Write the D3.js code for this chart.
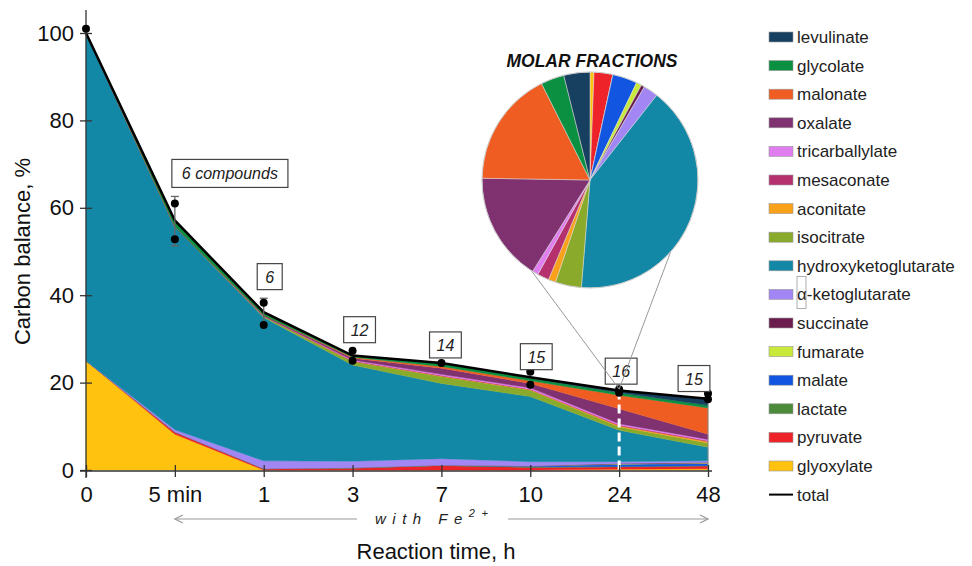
<!DOCTYPE html>
<html>
<head>
<meta charset="utf-8">
<script src="https://cdn.jsdelivr.net/npm/d3@7"></script>
<style>
  body { margin: 0; background: #fff; }
  svg { font-family: "Liberation Sans", Arial, sans-serif; }
</style>
</head>
<body>
<div id="chart"></div>
<script>
// reaction times (x categories)
const times = ['0', '5 min', '1', '3', '7', '10', '24', '48'];

// series, bottom of the stack first
const seriesNames = ['glyoxylate', 'pyruvate', 'lactate', 'malate', 'fumarate', 'succinate',
  'α-ketoglutarate', 'hydroxyketoglutarate', 'isocitrate', 'aconitate', 'mesaconate',
  'tricarballylate', 'oxalate', 'malonate', 'glycolate', 'levulinate'];
const colors = ['#ffc20e', '#ee2229', '#4c8b3c', '#1155e0', '#c8e83a', '#6b1e4e',
  '#a287f4', '#1388a6', '#8aaa2c', '#f9a11b', '#b5316e',
  '#e07ef0', '#7f3170', '#f05d23', '#0a9040', '#173f5f'];

// carbon balance, % (one value per time)
const glyoxylate           = [25, 8.2, 0, 0, 0, 0, 0.2, 0.3];
const pyruvate             = [0, 0.5, 0.3, 0.4, 1.0, 0.6, 0.5, 0.6];
const lactate              = [0, 0, 0, 0.1, 0.1, 0.1, 0.1, 0.1];
const malate               = [0, 0, 0, 0, 0, 0.2, 0.5, 0.5];
const fumarate             = [0, 0, 0, 0, 0, 0, 0.1, 0.1];
const succinate            = [0, 0, 0, 0, 0, 0, 0.1, 0.1];
const aKetoglutarate       = [0, 0.5, 1.8, 1.5, 1.5, 1.0, 0.4, 0.4];
const hydroxyketoglutarate = [75, 46.5, 32.8, 22, 17.2, 14.9, 7.2, 3.1];
const isocitrate           = [0, 0, 0.3, 0.8, 1.6, 1.5, 0.8, 1.0];
const aconitate            = [0, 0, 0, 0.1, 0.1, 0.1, 0.2, 0.3];
const mesaconate           = [0, 0, 0, 0.1, 0.1, 0.1, 0.2, 0.2];
const tricarballylate      = [0, 0, 0, 0.2, 0.3, 0.3, 0.3, 0.3];
const oxalate              = [0, 0, 0.2, 0.4, 1.4, 1.0, 3.4, 1.2];
const malonate             = [0, 0, 0, 0.2, 0.4, 0.6, 3.1, 6.0];
const glycolate            = [0, 1.4, 0.7, 0.4, 0.8, 0.6, 0.6, 0.6];
const levulinate           = [0, 0, 0, 0, 0, 0.2, 0.5, 1.5];

const seriesValues = [glyoxylate, pyruvate, lactate, malate, fumarate, succinate,
  aKetoglutarate, hydroxyketoglutarate, isocitrate, aconitate, mesaconate,
  tricarballylate, oxalate, malonate, glycolate, levulinate];

// measured totals (dots) and error bars
const measHigh = [101, 61, 38.3, 27.3, 24.5, 22.5, 18.5, 17.5];
const measLow  = [null, 52.8, 33.2, 25, null, 19.5, 17.7, 16.2];
const errUp    = [0, 1.6, 1.0, 0, 0, 0, 0, 0];
const errDown  = [0, 1.5, 0, 0, 0, 0, 0, 0];

// number of compounds annotations
const noteTimes  = ['5 min', '1', '3', '7', '10', '24', '48'];
const noteLabels = ['6 compounds', '6', '12', '14', '15', '16', '15'];

// molar fractions at 24 h (%), same order as seriesNames
const molarFractions = [0.6, 2.8, 0, 3.7, 0.8, 0.5, 2.2, 40.6, 3.9, 1.1, 1.75, 0.9, 16.3, 17.3, 3.5, 3.9];

const yTicks = [0, 20, 40, 60, 80, 100];

// ---- layout
const W = 972, H = 566;
const svg = d3.select('#chart').append('svg').attr('width', W).attr('height', H);

const x = d3.scalePoint().domain(times).range([86, 708]);
const y = d3.scaleLinear().domain([0, 100]).range([470, 33]);
const color = d3.scaleOrdinal().domain(seriesNames).range(colors);

const data = times.map((t, i) => {
  const row = { time: t };
  seriesNames.forEach((k, j) => row[k] = seriesValues[j][i]);
  return row;
});
const totals = data.map(d => d3.sum(seriesNames, k => d[k]));

const stacked = d3.stack().keys(seriesNames)(data);

const area = d3.area()
  .x(d => x(d.data.time))
  .y0(d => y(d[0]))
  .y1(d => y(d[1]));

svg.append('g').selectAll('path')
  .data(stacked)
  .enter().append('path')
  .attr('d', area)
  .attr('fill', d => color(d.key))
  .attr('stroke', d => color(d.key))
  .attr('stroke-width', 0.4);

// right edge
svg.append('line')
  .attr('x1', x('48')).attr('x2', x('48'))
  .attr('y1', y(totals[7])).attr('y2', y(0))
  .attr('stroke', '#888').attr('stroke-width', 1);

// white dashed marker at 24 h
svg.append('line')
  .attr('x1', x('24')).attr('x2', x('24'))
  .attr('y1', y(totals[6])).attr('y2', y(0))
  .attr('stroke', '#fff').attr('stroke-width', 3)
  .attr('stroke-dasharray', '9,5');

// total line
svg.append('path')
  .datum(totals)
  .attr('d', d3.line().x((d, i) => x(times[i])).y(d => y(d)))
  .attr('fill', 'none')
  .attr('stroke', '#000')
  .attr('stroke-width', 2.5);

// axes
const yAxis = svg.append('g')
  .attr('transform', `translate(${x('0')},0)`)
  .call(d3.axisLeft(y).tickValues(yTicks).tickSize(6).tickPadding(6));
yAxis.select('.domain').remove();
yAxis.append('line').attr('x1', 0).attr('x2', 0).attr('y1', 10).attr('y2', 478)
  .attr('stroke', '#333').attr('stroke-width', 1.3);
yAxis.selectAll('.tick line').attr('x1', -6).attr('x2', 6).attr('stroke', '#333').attr('stroke-width', 1.3);
yAxis.selectAll('.tick text').style('font-size', '22px').attr('fill', '#111')
  .attr('font-family', '"Liberation Sans", Arial, sans-serif');

const xAxis = svg.append('g')
  .attr('transform', `translate(0,${y(0) + 1})`)
  .call(d3.axisBottom(x).tickSize(6).tickPadding(9));
xAxis.select('.domain').remove();
xAxis.append('line').attr('x1', 80).attr('x2', 712).attr('y1', 0).attr('y2', 0)
  .attr('stroke', '#333').attr('stroke-width', 1.3);
xAxis.selectAll('.tick line').attr('y1', -6).attr('y2', 6).attr('stroke', '#333').attr('stroke-width', 1.3);
xAxis.selectAll('.tick text').style('font-size', '22px').attr('fill', '#111')
  .attr('font-family', '"Liberation Sans", Arial, sans-serif');

// axis titles
svg.append('text')
  .attr('transform', `translate(30,${y(50)}) rotate(-90)`)
  .attr('text-anchor', 'middle')
  .style('font-size', '22px').attr('fill', '#111')
  .text('Carbon balance, %');
svg.append('text')
  .attr('x', 436).attr('y', 559)
  .attr('text-anchor', 'middle')
  .style('font-size', '22px').attr('fill', '#111')
  .text('Reaction time, h');

// with Fe2+ arrow
const arrowY = 519;
const arrow = svg.append('g').attr('stroke', '#999').attr('stroke-width', 1.2).attr('fill', 'none');
arrow.append('line').attr('x1', x('5 min')).attr('x2', 357).attr('y1', arrowY).attr('y2', arrowY);
arrow.append('line').attr('x1', 508).attr('x2', x('48')).attr('y1', arrowY).attr('y2', arrowY);
arrow.append('path').attr('d', `M${x('5 min') + 8},${arrowY - 4}L${x('5 min')},${arrowY}L${x('5 min') + 8},${arrowY + 4}`);
arrow.append('path').attr('d', `M${x('48') - 8},${arrowY - 4}L${x('48')},${arrowY}L${x('48') - 8},${arrowY + 4}`);
const fe = svg.append('text')
  .attr('x', 375).attr('y', arrowY + 5)
  .style('font-size', '15px').style('font-style', 'italic')
  .style('letter-spacing', '6.5px').attr('fill', '#222');
fe.append('tspan').text('with  Fe');
fe.append('tspan').attr('dy', -7).style('font-size', '11px').text('2+');

// error bars
times.forEach((t, i) => {
  if (errUp[i] > 0 || errDown[i] > 0) {
    const top = measHigh[i] + errUp[i];
    const bot = (measLow[i] != null ? measLow[i] : measHigh[i]) - errDown[i];
    const g = svg.append('g').attr('stroke', '#666').attr('stroke-width', 1.3);
    g.append('line').attr('x1', x(t)).attr('x2', x(t)).attr('y1', y(top)).attr('y2', y(bot));
    g.append('line').attr('x1', x(t) - 4).attr('x2', x(t) + 4).attr('y1', y(top)).attr('y2', y(top));
    g.append('line').attr('x1', x(t) - 4).attr('x2', x(t) + 4).attr('y1', y(bot)).attr('y2', y(bot));
  }
});

// measured dots
const dots = [];
times.forEach((t, i) => {
  dots.push({ t, v: measHigh[i] });
  if (measLow[i] != null) dots.push({ t, v: measLow[i] });
});
svg.append('g').selectAll('circle')
  .data(dots)
  .enter().append('circle')
  .attr('cx', d => x(d.t))
  .attr('cy', d => y(d.v))
  .attr('r', 4)
  .attr('fill', '#000');

// annotation boxes
const noteDx = [-3, 6, 7, 4, 6, 2, -14];
const noteGap = [16, 13, 8, 5, 2, 5, 2];
noteTimes.forEach((t, i) => {
  const idx = times.indexOf(t);
  const label = noteLabels[i];
  const g = svg.append('g');
  const txt = g.append('text')
    .style('font-size', '16px').style('font-style', 'italic').attr('fill', '#222')
    .text(label);
  const tw = txt.node().getComputedTextLength();
  const bw = label.length > 2 ? tw + 20 : Math.max(25, tw + 14);
  const bh = label.length > 2 ? 28 : 26;
  const bottom = y(measHigh[idx]) - noteGap[i];
  const left = label.length > 2 ? x(t) + noteDx[i] : x(t) + noteDx[i] - bw / 2;
  g.insert('rect', 'text')
    .attr('x', left).attr('y', bottom - bh)
    .attr('width', bw).attr('height', bh)
    .attr('fill', '#fff').attr('stroke', '#444').attr('stroke-width', 1.2);
  txt.attr('x', left + bw / 2).attr('y', bottom - bh / 2 + 6).attr('text-anchor', 'middle');
});

// pie chart of molar fractions
const pieCx = 590, pieCy = 180, pieR = 108;
const pieData = seriesNames.map((k, i) => ({ key: k, v: molarFractions[i] }));
const arcs = d3.pie().sort(null).value(d => d.v)(pieData);

// connector lines to 24 h point
const connA = [212.8, 131.7];
const target = [x('24'), y(measHigh[6])];
connA.forEach(a => {
  const rad = a * Math.PI / 180;
  svg.append('line')
    .attr('x1', pieCx + pieR * Math.sin(rad))
    .attr('y1', pieCy - pieR * Math.cos(rad))
    .attr('x2', target[0]).attr('y2', target[1])
    .attr('stroke', '#999').attr('stroke-width', 1);
});

const pie = svg.append('g').attr('transform', `translate(${pieCx},${pieCy})`);
pie.selectAll('path')
  .data(arcs)
  .enter().append('path')
  .attr('d', d3.arc().innerRadius(0).outerRadius(pieR))
  .attr('fill', d => color(d.data.key))
  .attr('stroke', '#ddd')
  .attr('stroke-width', 0.5);
pie.append('circle').attr('r', pieR).attr('fill', 'none').attr('stroke', '#ccc').attr('stroke-width', 1);

svg.append('text')
  .attr('x', 592).attr('y', 67)
  .attr('text-anchor', 'middle')
  .style('font-size', '17.5px').style('font-weight', 'bold').style('font-style', 'italic')
  .attr('fill', '#111')
  .text('MOLAR FRACTIONS');

// legend
const legendItems = seriesNames.slice().reverse().concat(['total']);
const legend = svg.append('g').attr('transform', 'translate(769,37)');
legendItems.forEach((k, i) => {
  const g = legend.append('g').attr('transform', `translate(0,${i * 28.6})`);
  if (k === 'total') {
    g.append('line').attr('x1', 0).attr('x2', 24).attr('y1', 0).attr('y2', 0)
      .attr('stroke', '#000').attr('stroke-width', 2);
  } else {
    g.append('rect').attr('x', 0).attr('y', -5).attr('width', 24).attr('height', 10)
      .attr('fill', color(k)).attr('stroke', '#999').attr('stroke-width', 0.6);
  }
  g.append('text').attr('x', 28).attr('y', 6)
    .style('font-size', '17px').attr('fill', '#222')
    .text(k);
  if (k === 'α-ketoglutarate') {
    g.append('rect').attr('x', 28).attr('y', -18).attr('width', 9).attr('height', 32)
      .attr('fill', 'none').attr('stroke', '#999').attr('stroke-width', 0.8);
  }
});
</script>
</body>
</html>
